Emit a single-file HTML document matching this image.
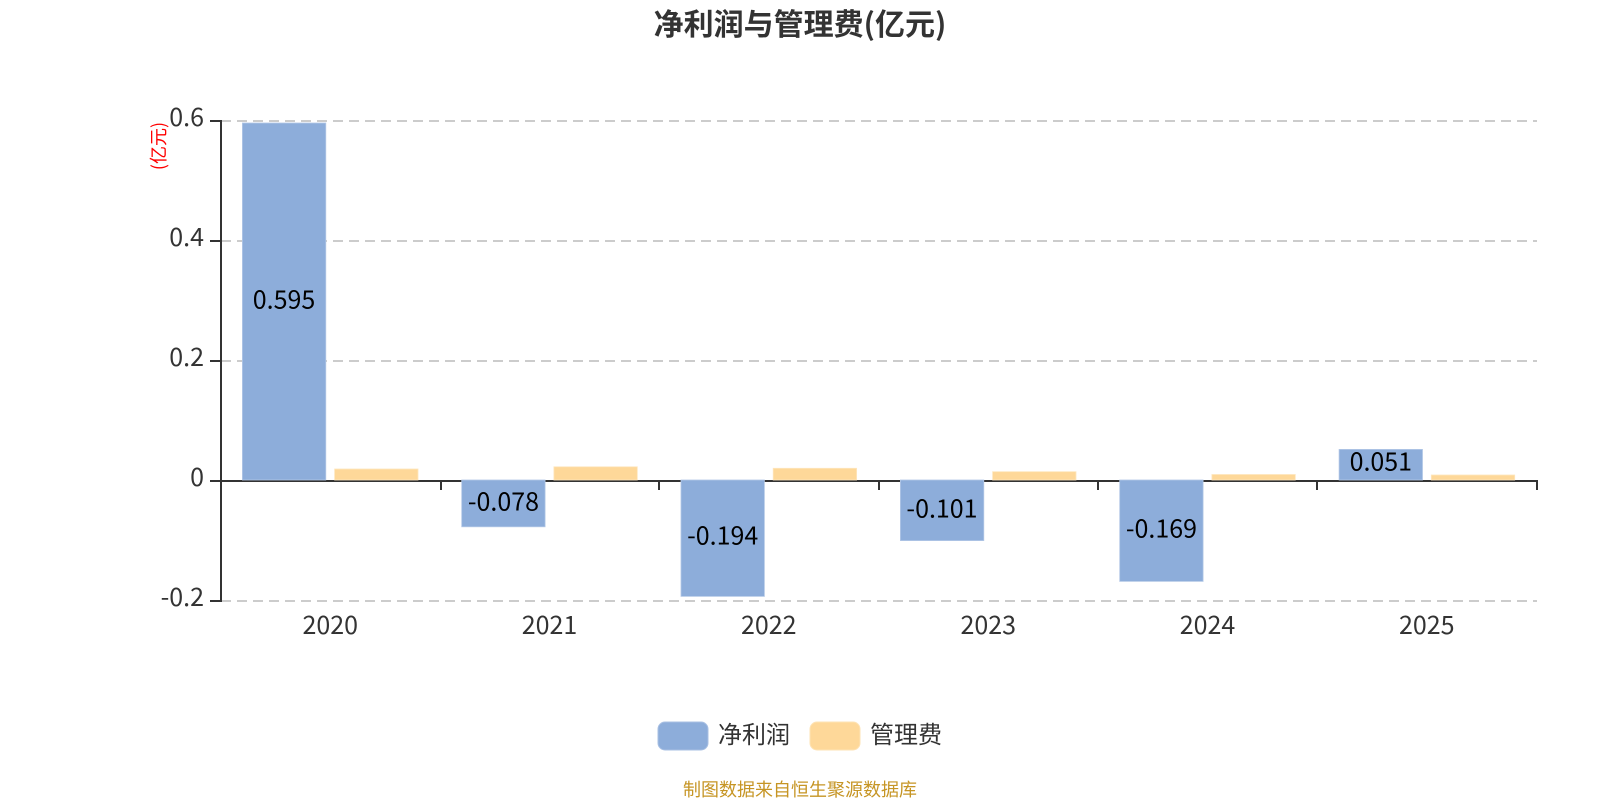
<!DOCTYPE html>
<html><head><meta charset="utf-8">
<style>
html,body{margin:0;padding:0;background:#fff;width:1600px;height:800px;overflow:hidden}
svg{display:block}
text{font-family:"Noto Sans CJK SC","Liberation Sans",sans-serif}
</style></head><body>
<svg width="1600" height="800" viewBox="0 0 1600 800" xmlns="http://www.w3.org/2000/svg">
<rect width="1600" height="800" fill="#fff"/>
<text x="800" y="35" text-anchor="middle" font-size="30" font-weight="700" fill="#333">净利润与管理费(亿元)</text>
<g stroke="#ccc" stroke-width="2" stroke-dasharray="10 6" fill="none">
<path d="M221 121H1537M221 241H1537M221 361H1537M221 601H1537"/>
</g>
<g stroke="#333" stroke-width="2" fill="none">
<path d="M221 120V602"/>
<path d="M210 121H221M210 241H221M210 361H221M210 481H221M210 601H221"/>
<path d="M220 481H1538"/>
<path d="M441 481V490M659 481V490M879 481V490M1098 481V490M1317 481V490M1537 481V490"/>
</g>
<g fill="#8dadda" stroke="#b3c8e6" stroke-width="0.800">
<rect x="242.400" y="123" width="83.400" height="357"/>
<rect x="461.700" y="480" width="83.400" height="46.800"/>
<rect x="681" y="480" width="83.400" height="116.400"/>
<rect x="900.400" y="480" width="83.400" height="60.600"/>
<rect x="1119.700" y="480" width="83.400" height="101.400"/>
<rect x="1339.100" y="449.400" width="83.400" height="30.600"/>
</g>
<g fill="#fed899" stroke="#fee6bd" stroke-width="0.800">
<rect x="334.600" y="469" width="83.400" height="11"/>
<rect x="553.900" y="466.800" width="83.400" height="13.200"/>
<rect x="773.200" y="468.300" width="83.400" height="11.700"/>
<rect x="992.600" y="471.700" width="83.400" height="8.300"/>
<rect x="1211.900" y="474.500" width="83.400" height="5.500"/>
<rect x="1431.300" y="475" width="83.400" height="5"/>
</g>
<g font-size="25" fill="#000" text-anchor="middle">
<text x="284" y="308.500">0.595</text>
<text x="503.400" y="510.400">-0.078</text>
<text x="722.700" y="544.700">-0.194</text>
<text x="942" y="517.300">-0.101</text>
<text x="1161.400" y="537.700">-0.169</text>
<text x="1380.800" y="470.700">0.051</text>
</g>
<g font-size="25" fill="#333" text-anchor="end">
<text x="204" y="126">0.6</text>
<text x="204" y="246">0.4</text>
<text x="204" y="366">0.2</text>
<text x="204" y="486">0</text>
<text x="204" y="606">-0.2</text>
</g>
<g font-size="25" fill="#333" text-anchor="middle">
<text x="330.200" y="634">2020</text>
<text x="549.500" y="634">2021</text>
<text x="768.800" y="634">2022</text>
<text x="988.200" y="634">2023</text>
<text x="1207.500" y="634">2024</text>
<text x="1426.800" y="634">2025</text>
</g>
<text transform="translate(165,146) rotate(-90)" text-anchor="middle" font-size="18" fill="#f00">(亿元)</text>
<rect x="658" y="722" width="50" height="28" rx="7" fill="#8dadda" stroke="#a9c0e3" stroke-width="1"/>
<text x="718" y="743" font-size="24" fill="#333">净利润</text>
<rect x="810" y="722" width="50" height="28" rx="7" fill="#fed899" stroke="#fee3b5" stroke-width="1"/>
<text x="870" y="743" font-size="24" fill="#333">管理费</text>
<text x="800" y="796" text-anchor="middle" font-size="18" fill="#c69524">制图数据来自恒生聚源数据库</text>
</svg>
</body></html>
